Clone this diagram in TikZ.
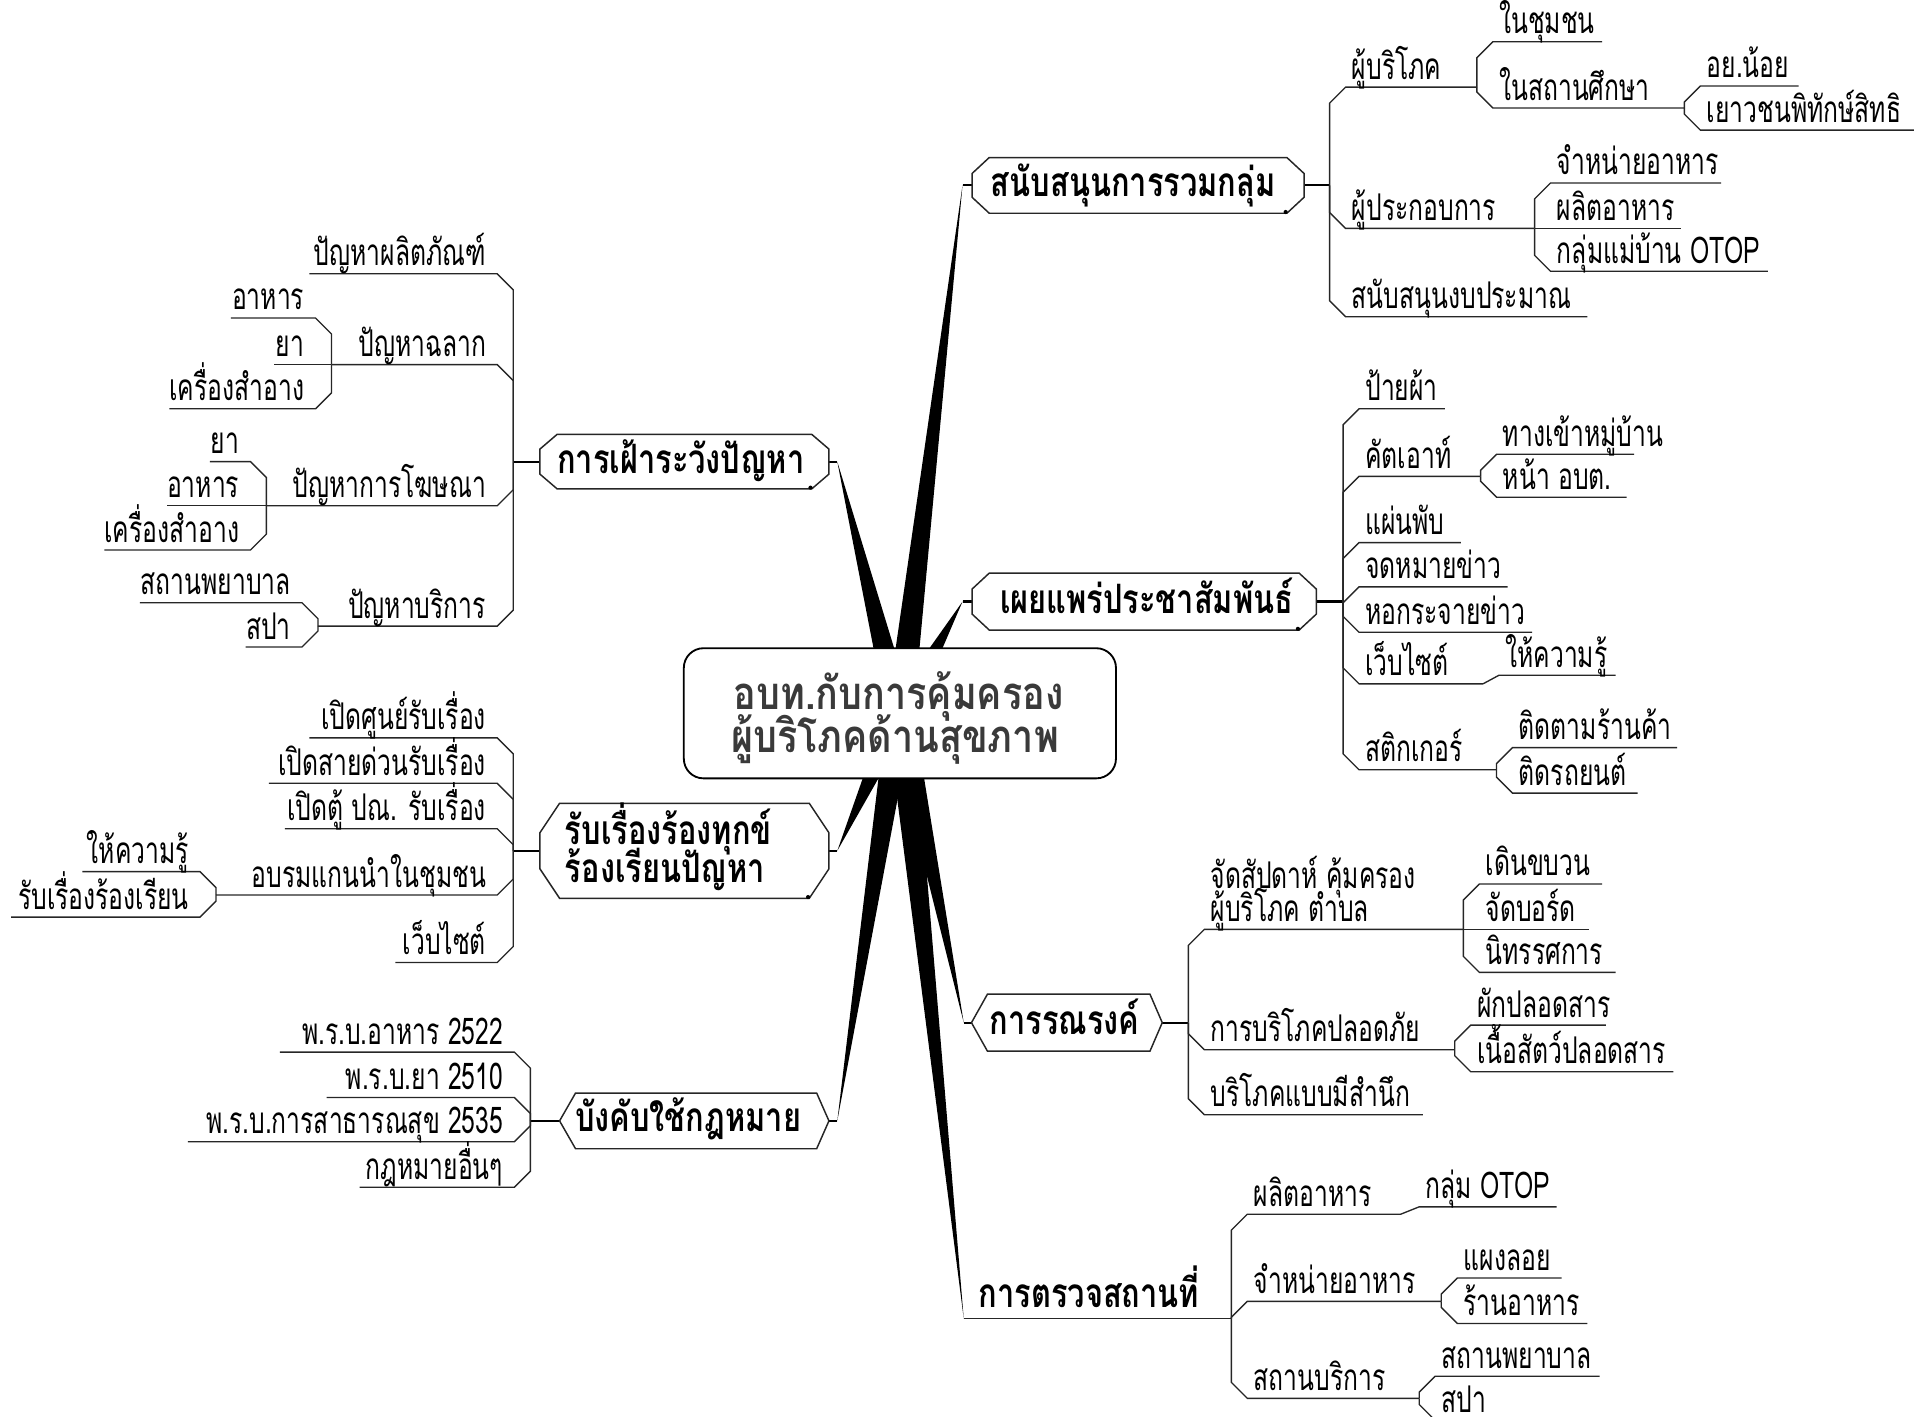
\documentclass[tikz,border=0pt]{standalone}
\usepackage{fontspec}
\usetikzlibrary{calc}
\newfontfamily\thfont[Script=Thai,FakeStretch=0.67]{Loma}
\newfontfamily\thhdfont[Script=Thai,FakeStretch=0.76]{Loma}
\newfontfamily\thctrfont[Script=Thai,FakeStretch=0.83]{Loma}
\newcommand\lblfont{\thfont\fontsize{30}{34}\selectfont}
\newcommand\hdfont{\thhdfont\bfseries\fontsize{33}{38}\selectfont}
\newcommand\ctrfont{\thctrfont\bfseries\fontsize{37}{42}\selectfont}
\definecolor{ink}{HTML}{3A3A3A}

% branch to the right: name, bus x, parent y, child y, end x, text
\newcommand\rkid[6]{%
  \pgfmathsetmacro\kidby{(#4<#3) ? #4+13 : ((#4>#3) ? #4-13 : #4)}%
  \coordinate (#1-b) at (#2,\kidby);
  \coordinate (#1-s) at (#2+13,#4);
  \coordinate (#1-e) at (#5,#4);
  \draw[line] (#2,#3) -- (#1-b) -- (#1-s) -- (#1-e);
  \node[lbl,anchor=base west] (#1) at ([xshift=5pt,yshift=6.5pt]#1-s) {#6};
}
% branch to the left: name, bus x, parent y, child y, start x, text
\newcommand\lkid[6]{%
  \pgfmathsetmacro\kidby{(#4<#3) ? #4+13 : ((#4>#3) ? #4-13 : #4)}%
  \coordinate (#1-b) at (#2,\kidby);
  \coordinate (#1-s) at (#2-13,#4);
  \coordinate (#1-e) at (#5,#4);
  \draw[line] (#2,#3) -- (#1-b) -- (#1-s) -- (#1-e);
  \node[lbl,anchor=base east] (#1) at ([xshift=-9pt,yshift=6.5pt]#1-s) {#6};
}
% octagon round a shell node: node, corner width, corner height
\newcommand\octo[3]{%
  \draw[boxline] ([xshift=#2]#1.north west) -- ([xshift=-#2]#1.north east)
    -- ([yshift=-#3]#1.north east) -- ([yshift=#3]#1.south east)
    -- ([xshift=-#2]#1.south east) -- ([xshift=#2]#1.south west)
    -- ([yshift=#3]#1.south west) -- ([yshift=-#3]#1.north west) -- cycle;
  \fill[black] ([xshift=-#2-1pt,yshift=1pt]#1.south east) circle (1.7pt);
}
% hexagon round a shell node: node, left inset, right inset
\newcommand\hexa[3]{%
  \draw[boxline] ([xshift=#2]#1.north west) -- ([xshift=-#3]#1.north east)
    -- (#1.east) -- ([xshift=-#3]#1.south east) -- ([xshift=#2]#1.south west)
    -- (#1.west) -- cycle;
}

\begin{document}
\begin{tikzpicture}[x=1pt,y=-1pt,
  line/.style={draw=black!85,line width=1.1pt},
  stem/.style={draw=black,line width=1.8pt},
  boxline/.style={draw=black!85,line width=1.2pt,fill=white},
  lbl/.style={inner sep=0pt,font=\lblfont},
  hd/.style={inner sep=0pt,font=\hdfont},
  ctrtxt/.style={inner sep=0pt,font=\ctrfont,text=ink},
  shell/.style={inner sep=0pt,draw=none},
  spoke/.style={fill=black},
]
\useasboundingbox (0,0) rectangle (1568,1154);

% ---------- hub and spokes ----------
\coordinate (hub) at (733,581);
\coordinate (A-tip) at (784,151);
\coordinate (B-tip) at (784,490);
\coordinate (C-tip) at (785,833);
\coordinate (D-tip) at (785,1074);
\coordinate (E-tip) at (682,376);
\coordinate (F-tip) at (682,693);
\coordinate (G-tip) at (682,913);
\foreach \t in {A-tip,B-tip,C-tip,D-tip,E-tip,F-tip,G-tip}
  \fill[spoke] (\t) -- ($(hub)!11pt!90:(\t)$) -- ($(hub)!11pt!-90:(\t)$) -- cycle;

\node[draw=black,line width=1.5pt,fill=white,rounded corners=16pt,
      minimum width=352pt,minimum height=106pt,inner sep=0pt] (ctr) at (733,581) {};
\node[ctrtxt,anchor=base] (ctr1) at (732,578) {อบท.กับการคุ้มครอง};
\node[ctrtxt,anchor=base] (ctr2) at (729,613) {ผู้บริโภคด้านสุขภาพ};

% ---------- main topics ----------
\node[shell,minimum width=270pt,minimum height=45pt] (A) at (927,151) {};
\coordinate (A-bus) at (1083,151);
\draw[stem] (A-tip) -- (A.west);
\draw[stem] (A.east) -- (A-bus);
\octo{A}{14pt}{13pt}
\node[hd,anchor=base] (A-t) at ([xshift=-4pt,yshift=-9pt]A.center) {สนับสนุนการรวมกลุ่ม};

\node[shell,minimum width=280pt,minimum height=46pt] (B) at (932,490) {};
\coordinate (B-bus) at (1094,490);
\draw[stem] (B-tip) -- (B.west);
\draw[stem] (B.east) -- (B-bus);
\octo{B}{14pt}{13pt}
\node[hd,anchor=base] (B-t) at ([xshift=2pt,yshift=-9.5pt]B.center) {เผยแพร่ประชาสัมพันธ์};

\node[shell,minimum width=155pt,minimum height=46pt] (C) at (869,833) {};
\coordinate (C-bus) at (968,833);
\draw[stem] (C-tip) -- (C.west);
\draw[stem] (C.east) -- (C-bus);
\hexa{C}{13pt}{10pt}
\node[hd,anchor=base] (C-t) at ([xshift=-2pt,yshift=-10pt]C.center) {การรณรงค์};

\coordinate (D-bus) at (1003,1074);
\draw[line,line width=1.4pt] (D-tip) -- (D-bus);
\node[hd,anchor=base west] (D) at (797,1065) {การตรวจสถานที่};

\node[shell,minimum width=235pt,minimum height=44pt] (E) at (557.5,376) {};
\coordinate (E-bus) at (418,376);
\draw[stem] (E-tip) -- (E.east);
\draw[stem] (E.west) -- (E-bus);
\octo{E}{14pt}{12pt}
\node[hd,anchor=base] (E-t) at ([xshift=-3pt,yshift=-9.5pt]E.center) {การเฝ้าระวังปัญหา};

\node[shell,minimum width=235pt,minimum height=77pt] (F) at (557.5,693) {};
\coordinate (F-bus) at (418,693);
\draw[stem] (F-tip) -- (F.east);
\draw[stem] (F.west) -- (F-bus);
\octo{F}{16pt}{24pt}
\node[hd,anchor=base west] (F-t1) at (460,688) {รับเรื่องร้องทุกข์};
\node[hd,anchor=base west] (F-t2) at (460,719) {ร้องเรียนปัญหา};

\node[shell,minimum width=219pt,minimum height=45pt] (G) at (565.5,913) {};
\coordinate (G-bus) at (432,913);
\draw[stem] (G-tip) -- (G.east);
\draw[stem] (G.west) -- (G-bus);
\hexa{G}{13pt}{10pt}
\node[hd,anchor=base] (G-t) at ([xshift=-5pt,yshift=-9pt]G.center) {บังคับใช้กฎหมาย};

% ---------- branches, right ----------
\rkid{a1}{1083}{151}{71}{1203}{ผู้บริโภค}
\rkid{a11}{1203}{71}{34}{1305}{ในชุมชน}
\rkid{a12}{1203}{71}{88}{1372}{ในสถานศึกษา}
\rkid{a121}{1372}{88}{70}{1465}{อย.น้อย}
\rkid{a122}{1372}{88}{106}{1559}{เยาวชนพิทักษ์สิทธิ}
\rkid{a2}{1083}{151}{186}{1250}{ผู้ประกอบการ}
\rkid{a21}{1250}{186}{149}{1402}{จำหน่ายอาหาร}
\rkid{a22}{1250}{186}{186}{1369}{ผลิตอาหาร}
\rkid{a23}{1250}{186}{221}{1440}{กลุ่มแม่บ้าน OTOP}
\rkid{a3}{1083}{151}{258}{1293}{สนับสนุนงบประมาณ}

\rkid{b1}{1094}{490}{333}{1177}{ป้ายผ้า}
\rkid{b2}{1094}{490}{388}{1206}{คัตเอาท์}
\rkid{b21}{1206}{388}{370}{1331}{ทางเข้าหมู่บ้าน}
\rkid{b22}{1206}{388}{405}{1325}{หน้า อบต.}
\rkid{b3}{1094}{490}{442}{1190}{แผ่นพับ}
\rkid{b4}{1094}{490}{478}{1228}{จดหมายข่าว}
\rkid{b5}{1094}{490}{515}{1248}{หอกระจายข่าว}
\rkid{b6}{1094}{490}{557}{1208}{เว็บไซต์}
\coordinate (b61-s) at (1221,550);
\coordinate (b61-e) at (1316,550);
\draw[line] (b6-e) -- (b61-s) -- (b61-e);
\node[lbl,anchor=base west] (b61) at ([xshift=5pt,yshift=6.5pt]b61-s) {ให้ความรู้};
\rkid{b7}{1094}{490}{627}{1219}{สติกเกอร์}
\rkid{b71}{1219}{627}{609}{1366}{ติดตามร้านค้า}
\rkid{b72}{1219}{627}{646}{1334}{ติดรถยนต์}

\rkid{c1}{968}{833}{757}{1192}{ผู้บริโภค ตำบล}
\node[lbl,anchor=base west] (c1-top) at ([yshift=27pt]c1.base west) {จัดสัปดาห์ คุ้มครอง};
\rkid{c11}{1192}{757}{720}{1305}{เดินขบวน}
\rkid{c12}{1192}{757}{757}{1294}{จัดบอร์ด}
\rkid{c13}{1192}{757}{792}{1316}{นิทรรศการ}
\rkid{c2}{968}{833}{855}{1185}{การบริโภคปลอดภัย}
\rkid{c21}{1185}{855}{835}{1308}{ผักปลอดสาร}
\rkid{c22}{1185}{855}{873}{1363}{เนื้อสัตว์ปลอดสาร}
\rkid{c3}{968}{833}{908}{1159}{บริโภคแบบมีสำนึก}

\rkid{d1}{1003}{1074}{989}{1141}{ผลิตอาหาร}
\coordinate (d11-s) at (1156,983);
\coordinate (d11-e) at (1268,983);
\draw[line] (d1-e) -- (d11-s) -- (d11-e);
\node[lbl,anchor=base west] (d11) at ([xshift=5pt,yshift=6.5pt]d11-s) {กลุ่ม OTOP};
\rkid{d2}{1003}{1074}{1060}{1174}{จำหน่ายอาหาร}
\rkid{d21}{1174}{1060}{1041}{1272}{แผงลอย}
\rkid{d22}{1174}{1060}{1078}{1293}{ร้านอาหาร}
\rkid{d3}{1003}{1074}{1139}{1156}{สถานบริการ}
\rkid{d31}{1156}{1139}{1121}{1303}{สถานพยาบาล}
\rkid{d32}{1156}{1139}{1157}{1240}{สปา}

% ---------- branches, left ----------
\lkid{e1}{418}{376}{223}{252}{ปัญหาผลิตภัณฑ์}
\lkid{e2}{418}{376}{297}{270}{ปัญหาฉลาก}
\lkid{e21}{270}{297}{259}{188}{อาหาร}
\lkid{e22}{270}{297}{297}{223}{ยา}
\lkid{e23}{270}{297}{333}{138}{เครื่องสำอาง}
\lkid{e3}{418}{376}{412}{217}{ปัญหาการโฆษณา}
\lkid{e31}{217}{412}{376}{171}{ยา}
\lkid{e32}{217}{412}{412}{136}{อาหาร}
\lkid{e33}{217}{412}{448}{85}{เครื่องสำอาง}
\lkid{e4}{418}{376}{510}{259}{ปัญหาบริการ}
\lkid{e41}{259}{510}{491}{114}{สถานพยาบาล}
\lkid{e42}{259}{510}{527}{200}{สปา}

\lkid{f1}{418}{693}{601}{252}{เปิดศูนย์รับเรื่อง}
\lkid{f2}{418}{693}{638}{219}{เปิดสายด่วนรับเรื่อง}
\lkid{f3}{418}{693}{675}{232}{เปิดตู้ ปณ. รับเรื่อง}
\lkid{f4}{418}{693}{729}{176}{อบรมแกนนำในชุมชน}
\lkid{f41}{176}{729}{710}{67}{ให้ความรู้}
\lkid{f42}{176}{729}{747}{9}{รับเรื่องร้องเรียน}
\lkid{f5}{418}{693}{784}{322}{เว็บไซต์}

\lkid{g1}{432}{913}{857}{228}{พ.ร.บ.อาหาร 2522}
\lkid{g2}{432}{913}{894}{266}{พ.ร.บ.ยา 2510}
\lkid{g3}{432}{913}{930}{153}{พ.ร.บ.การสาธารณสุข 2535}
\lkid{g4}{432}{913}{967}{293}{กฎหมายอื่นๆ}
\end{tikzpicture}
\end{document}
